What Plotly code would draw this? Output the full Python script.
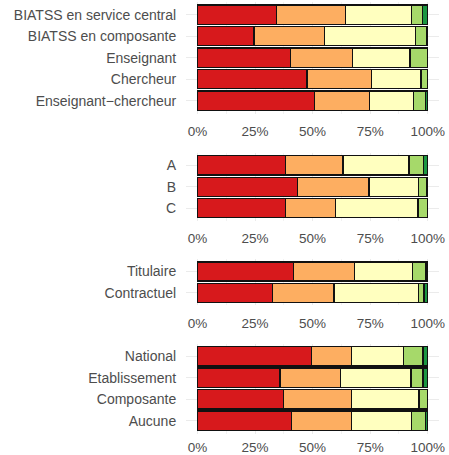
import plotly.graph_objects as go

# ---------------- data (percentages) ----------------
colors = ["#D7191C", "#FDAE61", "#FFFFBF", "#A6D96A", "#1A9641"]

p1_labels = ["BIATSS en service central", "BIATSS en composante", "Enseignant",
             "Chercheur", "Enseignant\u2212chercheur"]
p1_v1 = [34.4, 24.5, 40.5, 47.5, 50.7]
p1_v2 = [29.9, 30.6, 26.8, 28.0, 24.0]
p1_v3 = [28.6, 39.7, 25.0, 21.6, 19.1]
p1_v4 = [4.9, 4.8, 7.7, 2.9, 5.2]
p1_v5 = [2.2, 0.4, 0.0, 0.0, 1.0]

p2_labels = ["A", "B", "C"]
p2_v1 = [38.1, 43.4, 38.1]
p2_v2 = [25.1, 31.1, 21.7]
p2_v3 = [28.7, 21.4, 36.0]
p2_v4 = [6.2, 3.8, 4.2]
p2_v5 = [1.9, 0.3, 0.0]

p3_labels = ["Titulaire", "Contractuel"]
p3_v1 = [41.7, 32.7]
p3_v2 = [26.6, 26.6]
p3_v3 = [25.2, 36.8]
p3_v4 = [5.8, 2.3]
p3_v5 = [0.7, 1.6]

p4_labels = ["National", "Etablissement", "Composante", "Aucune"]
p4_v1 = [49.6, 35.9, 37.5, 40.7]
p4_v2 = [17.3, 26.3, 29.5, 26.3]
p4_v3 = [22.5, 30.6, 29.2, 25.9]
p4_v4 = [8.6, 5.2, 3.8, 6.1]
p4_v5 = [2.0, 2.0, 0.0, 1.0]

x_ticks = [0, 25, 50, 75, 100]
x_ticktext = ["0%", "25%", "50%", "75%", "100%"]

# ---------------- figure ----------------
W, H = 449, 455
panels = [
    (p1_labels, [p1_v1, p1_v2, p1_v3, p1_v4, p1_v5], (1.7, 113.5), 5),
    (p2_labels, [p2_v1, p2_v2, p2_v3, p2_v4, p2_v5], (152.6, 221.0), 5),
    (p3_labels, [p3_v1, p3_v2, p3_v3, p3_v4, p3_v5], (258.8, 305.4), 5),
    (p4_labels, [p4_v1, p4_v2, p4_v3, p4_v4, p4_v5], (343.5, 433.5), 1),
]
x_dom = [186.0 / W, 439.2 / W]
xfont = dict(family="Liberation Sans, Arial, sans-serif", size=13.5, color="#4D4D4D")
yfont = dict(family="Liberation Sans, Arial, sans-serif", size=14, color="#4D4D4D")

fig = go.Figure()
layout = {}
for i, (labels, vals, (top, bot), tl) in enumerate(panels):
    n = i + 1
    xa = "x" if n == 1 else f"x{n}"
    ya = "y" if n == 1 else f"y{n}"
    for k, v in enumerate(vals):
        fig.add_trace(go.Bar(
            x=[val if val > 0 else None for val in v], y=labels, orientation="h",
            xaxis=xa, yaxis=ya,
            marker=dict(color=colors[k], line=dict(color="#111111", width=1.3)),
            showlegend=False, hoverinfo="x+y",
        ))
    key = "" if n == 1 else str(n)
    layout["xaxis" + key] = dict(
        domain=x_dom, anchor=ya, range=[-5, 105], tickvals=x_ticks, ticktext=x_ticktext,
        showgrid=True, gridcolor="#EBEBEB", gridwidth=1, zeroline=False, showline=False,
        ticks="outside", ticklen=tl, tickcolor="rgba(0,0,0,0)", tickfont=xfont,
        automargin=False,
        minor=dict(tickvals=[12.5, 37.5, 62.5, 87.5], showgrid=True,
                   gridcolor="#F2F2F2", gridwidth=0.6),
    )
    layout["yaxis" + key] = dict(
        domain=[1 - bot / H, 1 - top / H], anchor=xa, type="category",
        categoryorder="array", categoryarray=labels,
        range=[len(labels) - 0.4, -0.6], automargin=False,
        showgrid=True, gridcolor="#EBEBEB", gridwidth=1, zeroline=False, showline=False,
        ticks="outside", ticklen=6, tickcolor="rgba(0,0,0,0)", tickfont=yfont,
    )

fig.update_layout(
    width=W, height=H, margin=dict(l=0, r=0, t=0, b=0, autoexpand=False),
    paper_bgcolor="white", plot_bgcolor="white",
    barmode="stack", bargap=0.1, **layout,
)
fig.write_html("out.html", config={"displayModeBar": False},
               post_script="document.body.style.margin='0px';")
